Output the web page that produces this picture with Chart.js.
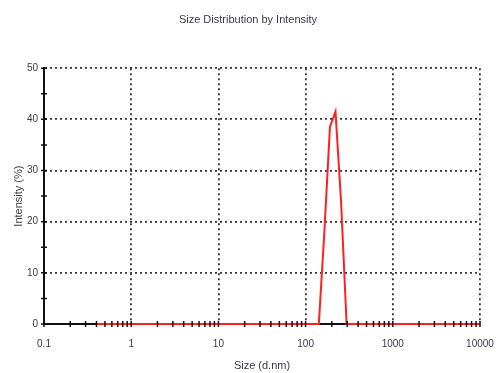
<!DOCTYPE html>
<html>
<head>
<meta charset="utf-8">
<script src="https://cdn.jsdelivr.net/npm/chart.js@4/dist/chart.umd.min.js"></script>
<style>
  html, body { margin: 0; padding: 0; background: #fff; }
  #wrap { width: 496px; height: 373px; }
</style>
</head>
<body>
<div id="wrap"><canvas id="sizeChart"></canvas></div>
<script>
// Tamaños (d.nm) y porcentaje de intensidad
const sizes     = [0.4, 141.8, 164.2, 190.1, 220.2, 255.0, 295.3, 10000];
const intensity = [0,   0,     18,    38.5,  41.5,  24,    0,     0];

const xTickLabels = ['0.1', '1', '10', '100', '1000', '10000'];
const yTickLabels = ['0', '10', '20', '30', '40', '50'];

const FONT = "'Liberation Sans Narrow', 'Liberation Sans', Arial, sans-serif";
const TEXT = '#3a3a4a';

function isDecade(v) {
  const l = Math.log10(v);
  return Math.abs(l - Math.round(l)) < 1e-9;
}

// marcas pequeñas que cruzan el eje (como en el original)
const crossTicks = {
  id: 'crossTicks',
  afterDraw(chart) {
    const { ctx, scales: { x, y } } = chart;
    ctx.save();
    ctx.strokeStyle = '#111';
    ctx.lineWidth = 1.5;
    ctx.beginPath();
    x.ticks.forEach(t => {
      const px = x.getPixelForValue(t.value);
      ctx.moveTo(px, y.bottom - 3);
      ctx.lineTo(px, y.bottom + 3);
    });
    y.ticks.forEach(t => {
      const py = y.getPixelForValue(t.value);
      ctx.moveTo(x.left - 3, py);
      ctx.lineTo(x.left + 3, py);
    });
    ctx.stroke();
    ctx.restore();
  }
};

new Chart(document.getElementById('sizeChart'), {
  type: 'line',
  data: {
    datasets: [{
      data: sizes.map((s, i) => ({ x: s, y: intensity[i] })),
      borderColor: '#ff2020',
      borderWidth: 2,
      pointRadius: 0,
      tension: 0,
      clip: false
    }]
  },
  options: {
    responsive: true,
    maintainAspectRatio: false,
    animation: false,
    layout: { padding: { left: 0, right: 0, bottom: 0 } },
    plugins: {
      legend: { display: false },
      tooltip: { enabled: false },
      title: {
        display: true,
        text: 'Size Distribution by Intensity',
        color: TEXT,
        font: { family: FONT, size: 11, weight: 'normal' },
        padding: { top: 13, bottom: 42 }
      }
    },
    scales: {
      x: {
        type: 'logarithmic',
        min: 0.1,
        max: 10000,
        afterBuildTicks: s => {
          s.ticks = s.ticks.filter(t => {
            const m = t.value / Math.pow(10, Math.floor(Math.log10(t.value) + 1e-9));
            return Math.abs(m - Math.round(m)) < 1e-6;
          });
        },
        afterFit: s => { s.height = 49; s.paddingRight = 16; },
        ticks: {
          autoSkip: false,
          maxRotation: 0,
          color: TEXT,
          font: { family: FONT, size: 10 },
          padding: 14,
          callback: v => isDecade(v) ? xTickLabels[Math.round(Math.log10(v)) + 1] : ''
        },
        grid: {
          color: '#333',
          lineWidth: c => (c.tick && isDecade(c.tick.value) && c.tick.value > 0.1) ? 1.8 : 0,
          drawTicks: false
        },
        border: { color: '#111', width: 2, dash: [2, 3] },
        title: {
          display: true,
          text: 'Size (d.nm)',
          color: TEXT,
          font: { family: FONT, size: 11 },
          padding: { top: 2, bottom: 0 }
        }
      },
      y: {
        min: 0,
        max: 50,
        afterFit: s => { s.width = 44; },
        ticks: {
          stepSize: 5,
          color: TEXT,
          font: { family: FONT, size: 10 },
          padding: 6,
          callback: v => v % 10 === 0 ? yTickLabels[v / 10] : ''
        },
        grid: {
          color: '#333',
          lineWidth: c => (c.tick && c.tick.value % 10 === 0 && c.tick.value > 0) ? 1.8 : 0,
          drawTicks: false
        },
        border: { color: '#111', width: 2, dash: [2, 3] },
        title: {
          display: true,
          text: 'Intensity (%)',
          color: TEXT,
          font: { family: FONT, size: 11 },
          padding: { top: 12, bottom: 2 }
        }
      }
    }
  },
  plugins: [crossTicks]
});
</script>
</body>
</html>
